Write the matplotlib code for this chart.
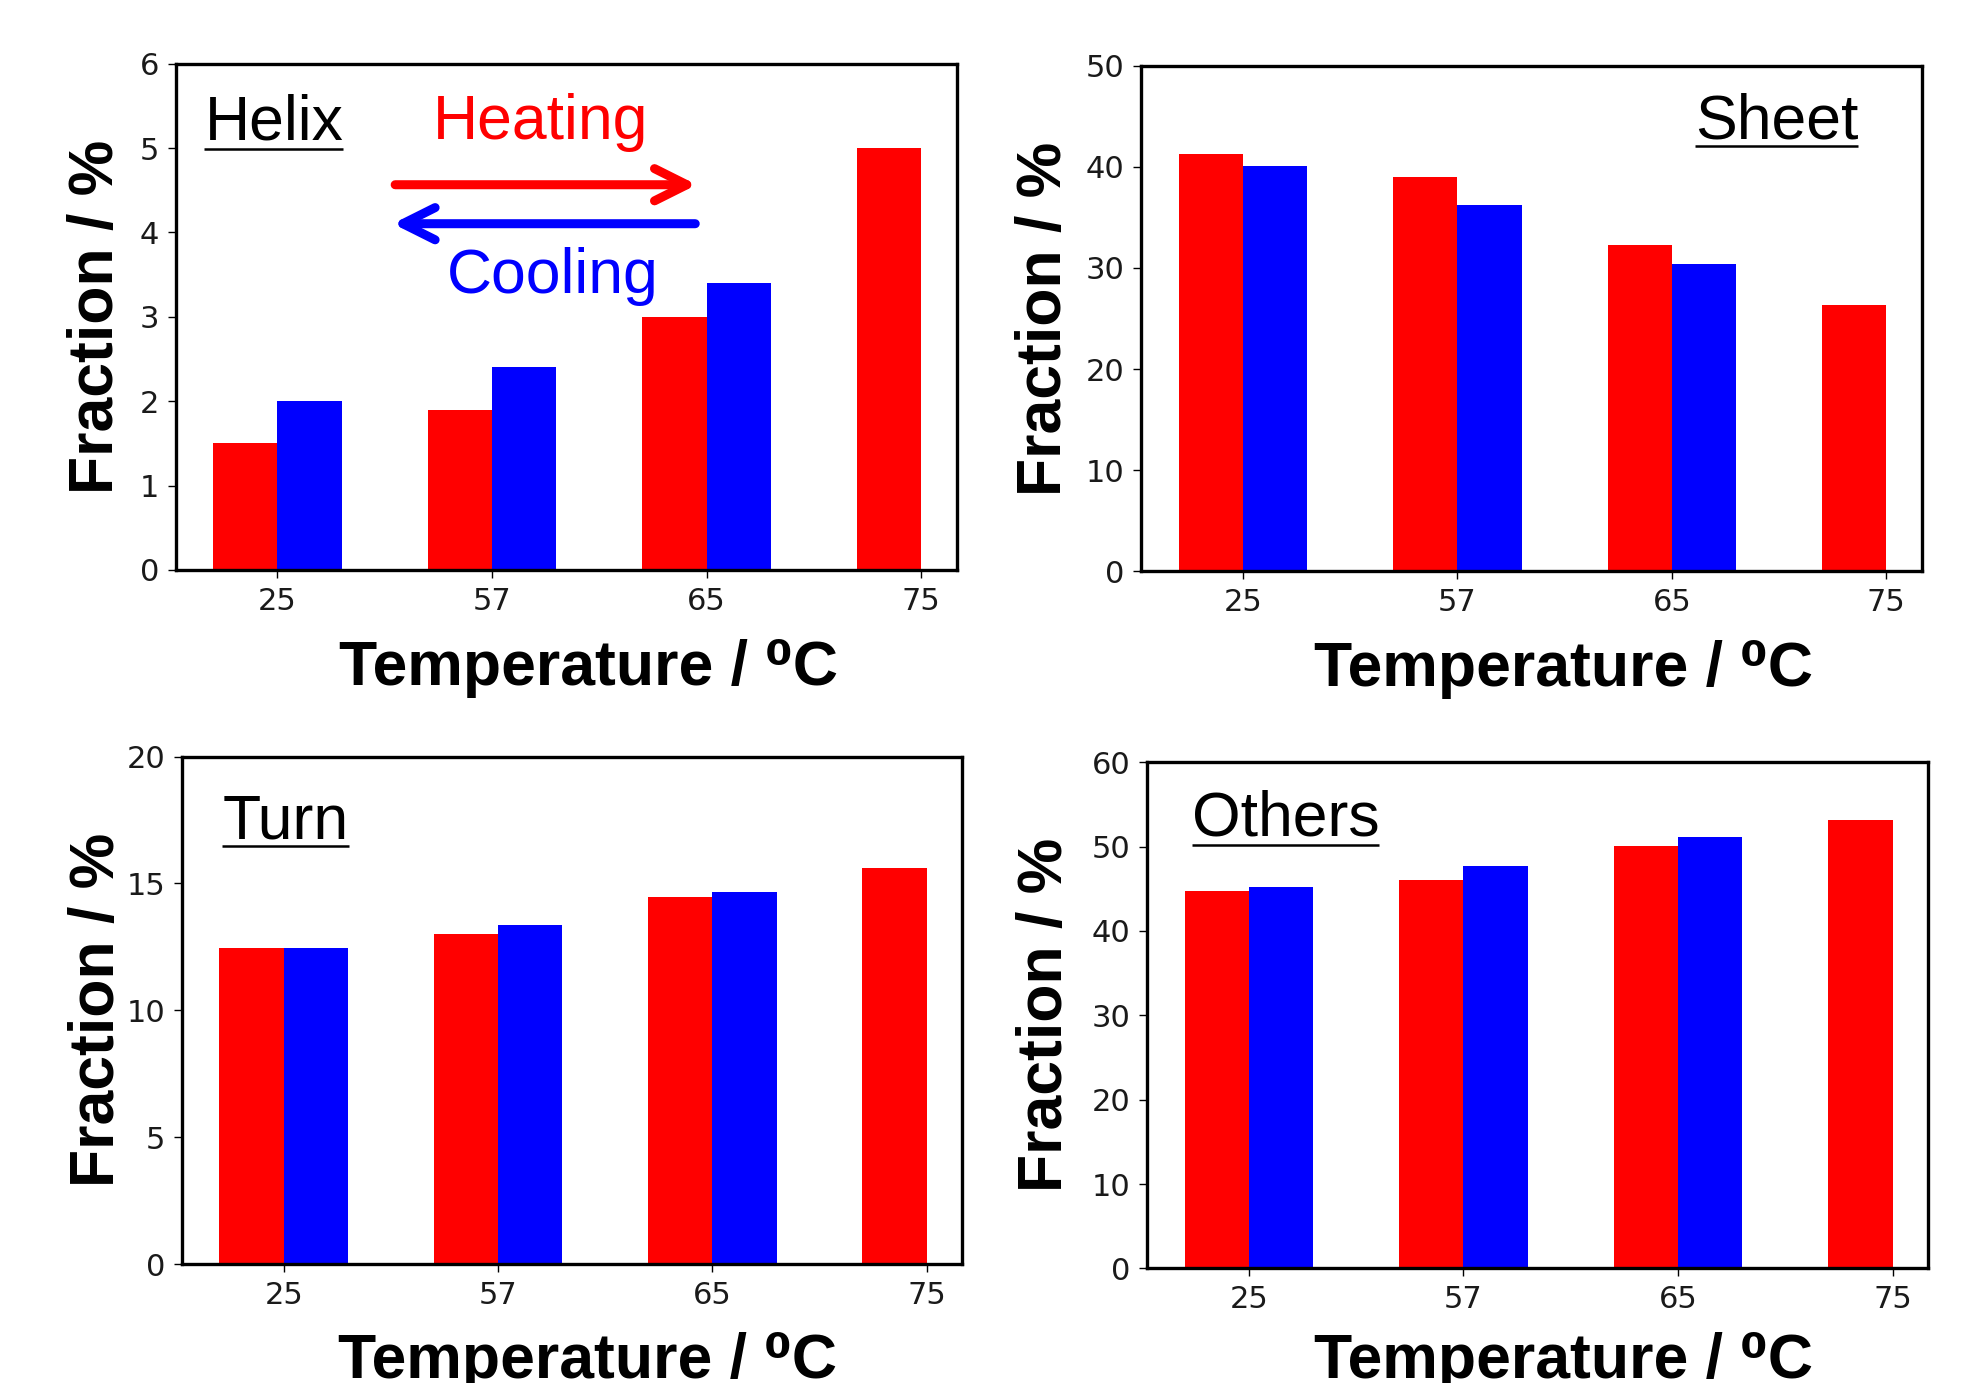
import matplotlib
matplotlib.use("Agg")
import matplotlib.pyplot as plt
import numpy as np

# ---------------- data ----------------
temperatures = ["25", "57", "65", "75"]

helix_heating = [1.5, 1.9, 3.0, 5.0]
helix_cooling = [2.0, 2.4, 3.4]

sheet_heating = [41.3, 39.0, 32.3, 26.3]
sheet_cooling = [40.1, 36.2, 30.4]

turn_heating = [12.45, 13.0, 14.45, 15.6]
turn_cooling = [12.45, 13.35, 14.65]

others_heating = [44.7, 46.0, 50.1, 53.2]
others_cooling = [45.2, 47.7, 51.2]

panel_names = ["Helix", "Sheet", "Turn", "Others"]
y_max = [6, 50, 20, 60]
y_ticks = [[0, 1, 2, 3, 4, 5, 6],
           [0, 10, 20, 30, 40, 50],
           [0, 5, 10, 15, 20],
           [0, 10, 20, 30, 40, 50, 60]]

heating_series = [helix_heating, sheet_heating, turn_heating, others_heating]
cooling_series = [helix_cooling, sheet_cooling, turn_cooling, others_cooling]

# ---------------- style ----------------
RED = "#ff0000"
BLUE = "#0000ff"
SANS = ["Liberation Sans", "DejaVu Sans"]
TICKFONT = "DejaVu Sans"

W, H = 1966, 1383
fig = plt.figure(figsize=(W / 100, H / 100), dpi=100)

# axes rectangles (figure fraction)
rects = [
    [0.0893, 0.5879, 0.3975, 0.3660],
    [0.5804, 0.5868, 0.3973, 0.3657],
    [0.0925, 0.0860, 0.3970, 0.3669],
    [0.5834, 0.0829, 0.3975, 0.3659],
]
ylabel_x = [-0.064, -0.086, -0.070, -0.092]
xlabel_pos = [(0.528, -0.137), (0.541, -0.135), (0.520, -0.133), (0.533, -0.125)]
# name position (x, baseline y, ha) and underline y in axes fraction
name_pos = [(0.037, 0.851, "left", 0.832),
            (0.918, 0.857, "right", 0.841),
            (0.052, 0.839, "left", 0.824),
            (0.057, 0.855, "left", 0.837)]

bar_w = 0.3
x = np.arange(len(temperatures))
axes = []
texts = []
for i in range(4):
    ax = fig.add_axes(rects[i])
    axes.append(ax)
    hv = heating_series[i]
    cv = cooling_series[i]
    ax.bar(x[:len(hv)] - bar_w / 2, hv, width=bar_w, color=RED, linewidth=0)
    ax.bar(x[:len(cv)] + bar_w / 2, cv, width=bar_w, color=BLUE, linewidth=0)
    ax.set_xlim(-0.475, 3.167)
    ax.set_ylim(0, y_max[i])
    ax.set_xticks(x)
    ax.set_xticklabels(temperatures)
    ax.set_yticks(y_ticks[i])
    for sp in ax.spines.values():
        sp.set_linewidth(2.4)
    ax.tick_params(axis="both", direction="out", length=6, width=1.0,
                   pad=6, labelsize=22, labelcolor="#1a1a1a")
    for lab in ax.get_xticklabels() + ax.get_yticklabels():
        lab.set_family(TICKFONT)
    ax.set_ylabel("Fraction / %", family=SANS, fontsize=45, fontweight="bold")
    ax.yaxis.set_label_coords(ylabel_x[i], 0.5)
    ax.set_xlabel("Temperature / \u2070C", family=SANS, fontsize=45,
                  fontweight="bold", va="top")
    ax.xaxis.set_label_coords(*xlabel_pos[i])
    nx, ny, ha, uy = name_pos[i]
    t = ax.text(nx, ny, panel_names[i], transform=ax.transAxes, ha=ha,
                va="baseline", family=SANS, fontsize=45, color="black")
    texts.append((t, uy))

# Heating / Cooling annotation in Helix panel
ax0 = axes[0]
ax0.text(0.329, 0.851, "Heating", transform=ax0.transAxes, ha="left",
         va="baseline", family=SANS, fontsize=45, color=RED)
ax0.text(0.347, 0.547, "Cooling", transform=ax0.transAxes, ha="left",
         va="baseline", family=SANS, fontsize=45, color=BLUE)
ax0.annotate("", xy=(0.667, 0.761), xytext=(0.281, 0.761),
             xycoords="axes fraction", textcoords="axes fraction",
             arrowprops=dict(arrowstyle="->, head_length=0.4, head_width=0.2",
                             color=RED, lw=6.5, mutation_scale=58,
                             shrinkA=0, shrinkB=0, capstyle="round",
                             joinstyle="round"))
ax0.annotate("", xy=(0.278, 0.684), xytext=(0.665, 0.684),
             xycoords="axes fraction", textcoords="axes fraction",
             arrowprops=dict(arrowstyle="->, head_length=0.4, head_width=0.2",
                             color=BLUE, lw=6.5, mutation_scale=58,
                             shrinkA=0, shrinkB=0, capstyle="round",
                             joinstyle="round"))

# underlines for panel names
fig.canvas.draw()
renderer = fig.canvas.get_renderer()
for ax, (t, uy) in zip(axes, texts):
    bb = t.get_window_extent(renderer=renderer)
    inv = ax.transAxes.inverted()
    (x0, _), (x1, _) = inv.transform([(bb.x0, bb.y0), (bb.x1, bb.y0)])
    ax.plot([x0, x1], [uy, uy], transform=ax.transAxes, color="black",
            lw=1.8, clip_on=False, solid_capstyle="butt")

fig.savefig("out.png", dpi=100)
